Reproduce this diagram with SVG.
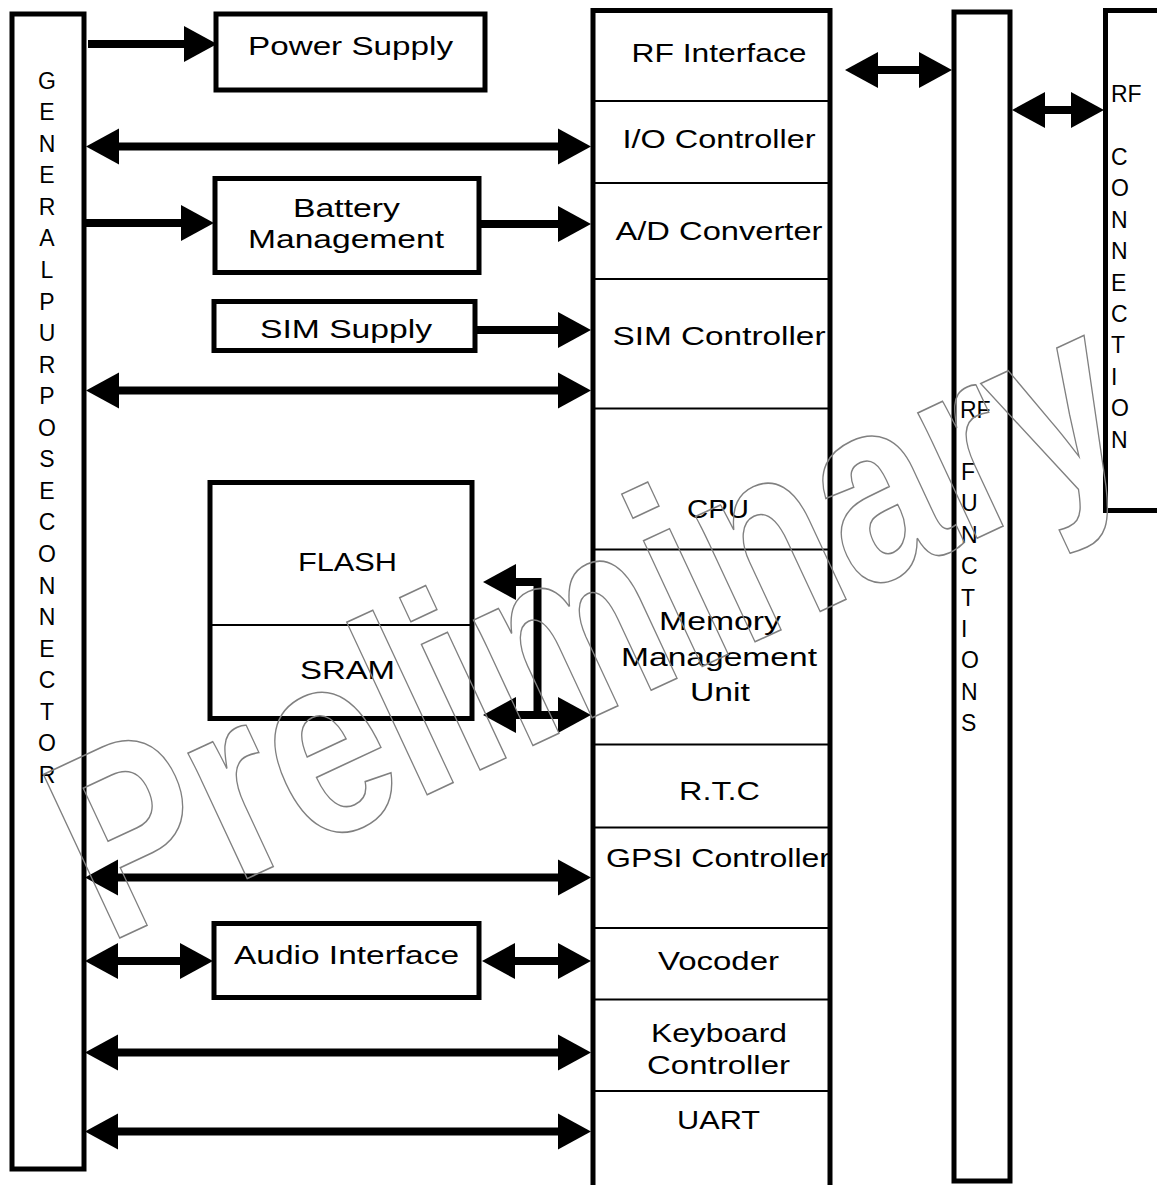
<svg xmlns="http://www.w3.org/2000/svg" width="1157" height="1185" viewBox="0 0 1157 1185">
<defs>
<marker id="ah" markerUnits="userSpaceOnUse" markerWidth="34" markerHeight="36" refX="0" refY="18" orient="auto-start-reverse" overflow="visible"><path d="M0,0 L33,18 L0,36 Z" fill="#000"/></marker>
</defs>
<style>
.bx{fill:none;stroke:#000;stroke-width:5}
.dv{stroke:#000;stroke-width:2}
.t{font-family:"Liberation Sans",Arial,Helvetica,sans-serif;font-size:26px;text-anchor:middle;fill:#000}
.v{font-family:"Liberation Sans",Arial,Helvetica,sans-serif;font-size:23px;fill:#000}
.vm{text-anchor:middle}
.c{stroke:#000;stroke-width:8;fill:none;stroke-linejoin:miter}
.wm{font-family:"Liberation Sans",Arial,Helvetica,sans-serif;font-weight:bold;font-size:210px;fill:none;stroke:#808080;stroke-width:1.3}
</style>
<rect width="1157" height="1185" fill="#fff"/>

<g id="gpc">
<rect class="bx" x="12" y="14" width="72" height="1155"/>
<text class="v vm"><tspan x="47" y="88.6">G</tspan><tspan x="47" y="120.2">E</tspan><tspan x="47" y="151.7">N</tspan><tspan x="47" y="183.3">E</tspan><tspan x="47" y="214.8">R</tspan><tspan x="47" y="246.4">A</tspan><tspan x="47" y="278">L</tspan><tspan x="47" y="309.5">P</tspan><tspan x="47" y="341.1">U</tspan><tspan x="47" y="372.6">R</tspan><tspan x="47" y="404.2">P</tspan><tspan x="47" y="435.8">O</tspan><tspan x="47" y="467.3">S</tspan><tspan x="47" y="498.9">E</tspan><tspan x="47" y="530.4">C</tspan><tspan x="47" y="562">O</tspan><tspan x="47" y="593.6">N</tspan><tspan x="47" y="625.1">N</tspan><tspan x="47" y="656.7">E</tspan><tspan x="47" y="688.2">C</tspan><tspan x="47" y="719.8">T</tspan><tspan x="47" y="751.4">O</tspan><tspan x="47" y="782.9">R</tspan></text>
</g>

<g id="power">
<rect class="bx" x="216" y="14" width="269" height="76"/>
<text class="t" x="350.5" y="55" textLength="205" lengthAdjust="spacingAndGlyphs">Power Supply</text>
</g>

<g id="battery">
<rect class="bx" x="215" y="178.5" width="264" height="94"/>
<text class="t" x="346.5" y="217" textLength="107" lengthAdjust="spacingAndGlyphs">Battery</text>
<text class="t" x="346" y="248" textLength="196" lengthAdjust="spacingAndGlyphs">Management</text>
</g>

<g id="simsupply">
<rect class="bx" x="214" y="301.5" width="261" height="49"/>
<text class="t" x="346" y="338" textLength="172" lengthAdjust="spacingAndGlyphs">SIM Supply</text>
</g>

<g id="memory">
<rect class="bx" x="210" y="482.5" width="262" height="236"/>
<line class="dv" x1="210" y1="625" x2="472" y2="625"/>
<text class="t" x="347.5" y="571" textLength="99" lengthAdjust="spacingAndGlyphs">FLASH</text>
<text class="t" x="347.5" y="679" textLength="95" lengthAdjust="spacingAndGlyphs">SRAM</text>
</g>

<g id="audio">
<rect class="bx" x="214" y="923.5" width="265" height="74"/>
<text class="t" x="346.5" y="964" textLength="225" lengthAdjust="spacingAndGlyphs">Audio Interface</text>
</g>

<g id="chip">
<path class="bx" d="M593,1185 V10.5 H830 V1185"/>
<line class="dv" x1="593" y1="101" x2="830" y2="101"/>
<line class="dv" x1="593" y1="183" x2="830" y2="183"/>
<line class="dv" x1="593" y1="279" x2="830" y2="279"/>
<line class="dv" x1="593" y1="408.5" x2="830" y2="408.5"/>
<line class="dv" x1="593" y1="549.5" x2="830" y2="549.5"/>
<line class="dv" x1="593" y1="744.5" x2="830" y2="744.5"/>
<line class="dv" x1="593" y1="827.5" x2="830" y2="827.5"/>
<line class="dv" x1="593" y1="928" x2="830" y2="928"/>
<line class="dv" x1="593" y1="999.5" x2="830" y2="999.5"/>
<line class="dv" x1="593" y1="1091" x2="830" y2="1091"/>
<text class="t" x="719" y="62" textLength="175" lengthAdjust="spacingAndGlyphs">RF Interface</text>
<text class="t" x="719" y="148" textLength="193" lengthAdjust="spacingAndGlyphs">I/O Controller</text>
<text class="t" x="719" y="240" textLength="207" lengthAdjust="spacingAndGlyphs">A/D Converter</text>
<text class="t" x="719" y="345" textLength="213" lengthAdjust="spacingAndGlyphs">SIM Controller</text>
<text class="t" x="718" y="518" textLength="62" lengthAdjust="spacingAndGlyphs">CPU</text>
<text class="t" x="720" y="630" textLength="122" lengthAdjust="spacingAndGlyphs">Memory</text>
<text class="t" x="719" y="666" textLength="196" lengthAdjust="spacingAndGlyphs">Management</text>
<text class="t" x="720" y="701" textLength="60" lengthAdjust="spacingAndGlyphs">Unit</text>
<text class="t" x="719.5" y="800" textLength="81" lengthAdjust="spacingAndGlyphs">R.T.C</text>
<text class="t" x="718" y="867" textLength="224" lengthAdjust="spacingAndGlyphs">GPSI Controller</text>
<text class="t" x="718.5" y="970" textLength="121" lengthAdjust="spacingAndGlyphs">Vocoder</text>
<text class="t" x="719" y="1042" textLength="136" lengthAdjust="spacingAndGlyphs">Keyboard</text>
<text class="t" x="718.5" y="1074" textLength="143" lengthAdjust="spacingAndGlyphs">Controller</text>
<text class="t" x="718.5" y="1129" textLength="83" lengthAdjust="spacingAndGlyphs">UART</text>
</g>

<g id="rffunctions">
<rect class="bx" x="954" y="12" width="56" height="1169"/>
<text class="v"><tspan x="960" y="418">RF</tspan><tspan x="961" y="480">F</tspan><tspan x="961" y="511.4">U</tspan><tspan x="961" y="542.8">N</tspan><tspan x="961" y="574.2">C</tspan><tspan x="961" y="605.6">T</tspan><tspan x="961" y="637">I</tspan><tspan x="961" y="668.4">O</tspan><tspan x="961" y="699.8">N</tspan><tspan x="961" y="731.2">S</tspan></text>
</g>

<g id="rfconnection">
<rect class="bx" x="1105.5" y="10.5" width="70" height="500"/>
<text class="v"><tspan x="1111" y="102">RF</tspan><tspan x="1111" y="165">C</tspan><tspan x="1111" y="196.4">O</tspan><tspan x="1111" y="227.8">N</tspan><tspan x="1111" y="259.2">N</tspan><tspan x="1111" y="290.6">E</tspan><tspan x="1111" y="322">C</tspan><tspan x="1111" y="353.4">T</tspan><tspan x="1111" y="384.8">I</tspan><tspan x="1111" y="416.2">O</tspan><tspan x="1111" y="447.6">N</tspan></text>
</g>

<g id="connectors">
<line class="c" x1="88" y1="44" x2="184" y2="44" marker-end="url(#ah)"/>
<line class="c" x1="119" y1="146.5" x2="558" y2="146.5" marker-start="url(#ah)" marker-end="url(#ah)"/>
<line class="c" x1="86" y1="223" x2="181" y2="223" marker-end="url(#ah)"/>
<line class="c" x1="479" y1="224" x2="558" y2="224" marker-end="url(#ah)"/>
<line class="c" x1="475" y1="330" x2="558" y2="330" marker-end="url(#ah)"/>
<line class="c" x1="119" y1="390.5" x2="558" y2="390.5" marker-start="url(#ah)" marker-end="url(#ah)"/>
<path class="c" d="M537.5,716 V582 H516" marker-end="url(#ah)"/>
<line class="c" x1="516" y1="715" x2="558" y2="715" marker-start="url(#ah)" marker-end="url(#ah)"/>
<line class="c" x1="118" y1="877.5" x2="558" y2="877.5" marker-start="url(#ah)" marker-end="url(#ah)"/>
<line class="c" x1="118" y1="961" x2="180" y2="961" marker-start="url(#ah)" marker-end="url(#ah)"/>
<line class="c" x1="515" y1="961" x2="558" y2="961" marker-start="url(#ah)" marker-end="url(#ah)"/>
<line class="c" x1="118" y1="1052.5" x2="558" y2="1052.5" marker-start="url(#ah)" marker-end="url(#ah)"/>
<line class="c" x1="118" y1="1131.5" x2="558" y2="1131.5" marker-start="url(#ah)" marker-end="url(#ah)"/>
<line class="c" x1="878" y1="70" x2="919" y2="70" marker-start="url(#ah)" marker-end="url(#ah)"/>
<line class="c" x1="1045" y1="110" x2="1071" y2="110" marker-start="url(#ah)" marker-end="url(#ah)"/>
</g>

<g id="watermark">
<text class="wm" x="0" y="0" transform="translate(107,944) rotate(-25) scale(1,1.25)">Preliminary</text>
</g>
</svg>
